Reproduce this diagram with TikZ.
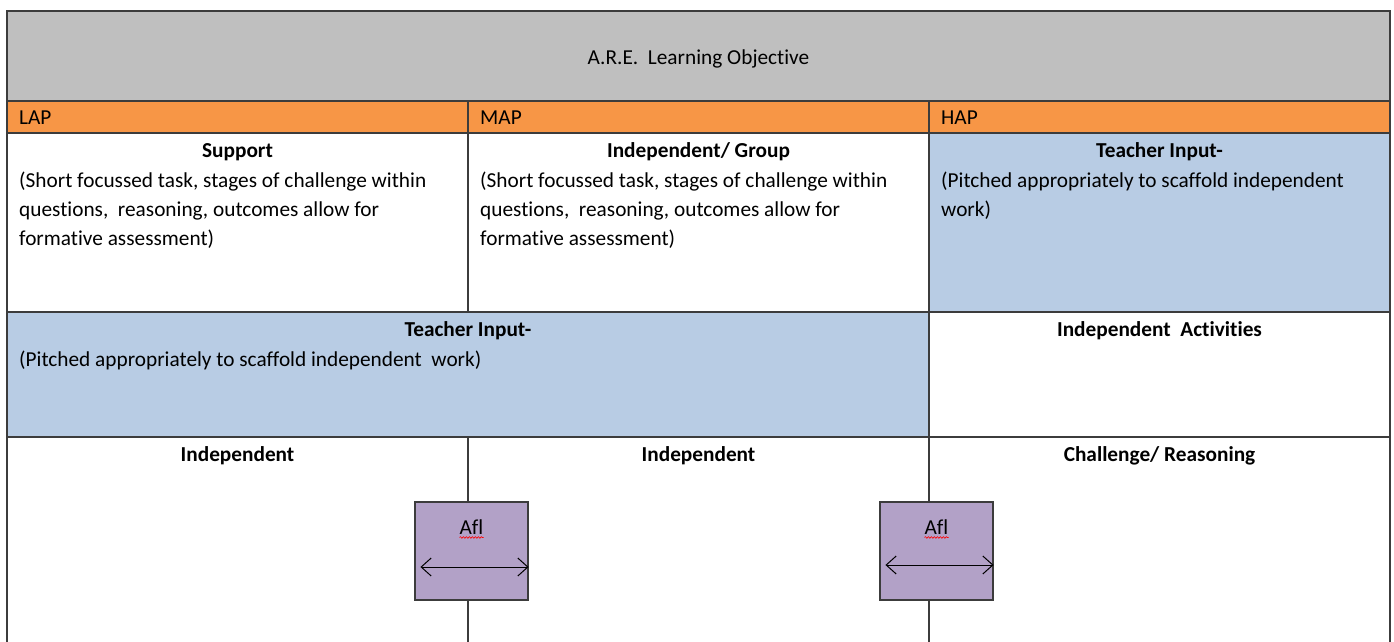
\documentclass[tikz,border=0pt]{standalone}
\usepackage{fontspec}
\setmainfont{Carlito}[Ligatures=CommonOff]
\usetikzlibrary{arrows.meta,decorations.pathmorphing}

\definecolor{HeadGray}{RGB}{191,191,191}
\definecolor{BandOrange}{RGB}{247,150,70}
\definecolor{InputBlue}{RGB}{184,204,228}
\definecolor{AflPurple}{RGB}{178,161,199}
\definecolor{LineGray}{RGB}{60,60,60}

\begin{document}
\begin{tikzpicture}[x=1pt,y=-1pt]

      \tikzstyle{Cell} = [
      rectangle,
      draw=LineGray,
      line width=1.3pt,
      inner sep=0pt,
      outer sep=0pt,
      minimum width=461pt,
      anchor=north west
      ]
      \tikzstyle{CellTitle} = [font=\fontsize{21.3}{29}\selectfont\bfseries, inner sep=0pt, anchor=base]
      \tikzstyle{CellText} = [font=\fontsize{21.3}{29}\selectfont, inner sep=0pt, align=left, anchor=north west]
      \tikzstyle{AflBlock} = [
      rectangle,
      draw=LineGray,
      fill=AflPurple,
      line width=1.1pt,
      minimum width=113pt,
      minimum height=98pt,
      inner sep=0pt
      ]
      \tikzstyle{AflArrow} = [{Straight Barb[length=10pt,width=18pt]}-{Straight Barb[length=10pt,width=18pt]}, line width=1pt]

      \useasboundingbox (0,0) rectangle (1394,642);
      \clip (0,0) rectangle (1394,642);

      % heading
      \node (Header) [Cell, fill=HeadGray, minimum width=1383pt, minimum height=90pt] at (7,11) {};
      \node (HeaderText) [font=\fontsize{21.3}{29}\selectfont] at ([yshift=-3pt]Header.center) {A.R.E.\ \ Learning Objective};

      % ability bands
      \node (LapHead) [Cell, fill=BandOrange, minimum height=32pt] at (Header.south west) {};
      \node (MapHead) [Cell, fill=BandOrange, minimum height=32pt] at (LapHead.north east) {};
      \node (HapHead) [Cell, fill=BandOrange, minimum height=32pt] at (MapHead.north east) {};
      \node [CellText, anchor=base west] at ([xshift=12pt,yshift=-23pt]LapHead.north west) {LAP};
      \node [CellText, anchor=base west] at ([xshift=12pt,yshift=-23pt]MapHead.north west) {MAP};
      \node [CellText, anchor=base west] at ([xshift=12pt,yshift=-23pt]HapHead.north west) {HAP};

      % first row
      \node (LapSupport) [Cell, minimum height=179pt] at (LapHead.south west) {};
      \node (MapGroup) [Cell, minimum height=179pt] at (LapSupport.north east) {};
      \node (HapInput) [Cell, fill=InputBlue, minimum height=179pt] at (MapGroup.north east) {};

      \node (SupportTitle) [CellTitle] at ([yshift=-24pt]LapSupport.north) {Support};
      \node (SupportText) [CellText] at ([xshift=12pt,yshift=-39pt]LapSupport.north west) {
        (Short focussed task, stages of challenge within\\
        questions,\ \ reasoning, outcomes allow for\\
        formative assessment)
      };
      \node (GroupTitle) [CellTitle] at ([yshift=-24pt]MapGroup.north) {Independent/ Group};
      \node (GroupText) [CellText] at ([xshift=12pt,yshift=-39pt]MapGroup.north west) {
        (Short focussed task, stages of challenge within\\
        questions,\ \ reasoning, outcomes allow for\\
        formative assessment)
      };
      \node (HapInputTitle) [CellTitle] at ([yshift=-24pt]HapInput.north) {Teacher Input-};
      \node (HapInputText) [CellText] at ([xshift=12pt,yshift=-39pt]HapInput.north west) {
        (Pitched appropriately to scaffold independent\\
        work)
      };

      % second row
      \node (WideInput) [Cell, fill=InputBlue, minimum width=922pt, minimum height=125pt] at (LapSupport.south west) {};
      \node (HapActivities) [Cell, minimum height=125pt] at (WideInput.north east) {};

      \node (WideInputTitle) [CellTitle] at ([yshift=-24pt]WideInput.north) {Teacher Input-};
      \node (WideInputText) [CellText] at ([xshift=12pt,yshift=-39pt]WideInput.north west) {
        (Pitched appropriately to scaffold independent\ \ work)
      };
      \node (ActivitiesTitle) [CellTitle] at ([yshift=-24pt]HapActivities.north) {Independent\ \ Activities};

      % third row
      \node (LapIndep) [Cell, minimum height=230pt] at (WideInput.south west) {};
      \node (MapIndep) [Cell, minimum height=230pt] at (LapIndep.north east) {};
      \node (HapReason) [Cell, minimum height=230pt] at (MapIndep.north east) {};

      \node (LapIndepTitle) [CellTitle] at ([yshift=-24pt]LapIndep.north) {Independent};
      \node (MapIndepTitle) [CellTitle] at ([yshift=-24pt]MapIndep.north) {Independent};
      \node (HapReasonTitle) [CellTitle] at ([yshift=-24pt]HapReason.north) {Challenge/ Reasoning};

      % AfL boxes
      \node (AflLeft) [AflBlock] at (471.5,551) {};
      \node (AflLeftText) [CellText, anchor=base] at ([yshift=-33pt]AflLeft.north) {Afl};
      \draw [red, line width=0.6pt, decorate, decoration={snake, amplitude=0.8pt, segment length=3pt}]
        ([yshift=-3pt]AflLeftText.base west) -- ([yshift=-3pt]AflLeftText.base east);
      \draw [AflArrow] ([xshift=6pt,yshift=-16pt]AflLeft.west) -- ([yshift=-16pt]AflLeft.east);

      \node (AflRight) [AflBlock] at (936.5,551) {};
      \node (AflRightText) [CellText, anchor=base] at ([yshift=-33pt]AflRight.north) {Afl};
      \draw [red, line width=0.6pt, decorate, decoration={snake, amplitude=0.8pt, segment length=3pt}]
        ([yshift=-3pt]AflRightText.base west) -- ([yshift=-3pt]AflRightText.base east);
      \draw [AflArrow] ([xshift=6pt,yshift=-14pt]AflRight.west) -- ([yshift=-14pt]AflRight.east);

    \end{tikzpicture}
\end{document}
